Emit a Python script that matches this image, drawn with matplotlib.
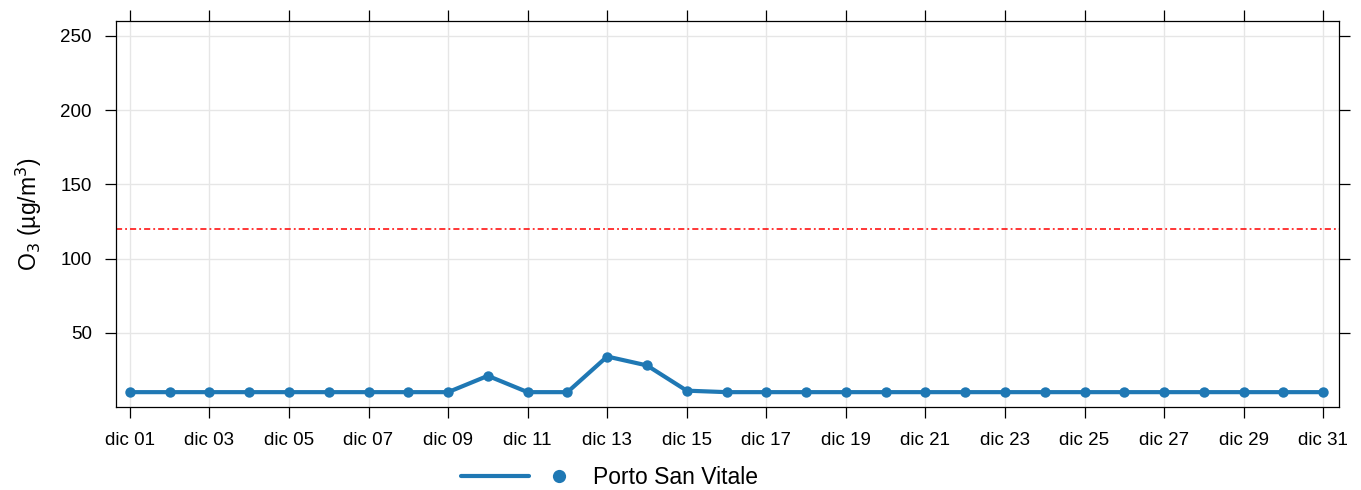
import numpy as np
import matplotlib
matplotlib.use("Agg")
import matplotlib.pyplot as plt
from matplotlib.lines import Line2D
from matplotlib.legend_handler import HandlerBase

plt.rcParams['font.family'] = ['Liberation Sans', 'DejaVu Sans']

# daily max O3, Porto San Vitale, December
days = list(range(1, 32))
o3 = [10, 10, 10, 10, 10, 10, 10, 10, 10, 21, 10, 10, 34, 28, 11,
      10, 10, 10, 10, 10, 10, 10, 10, 10, 10, 10, 10, 10, 10, 10, 10]
station = "Porto San Vitale"
threshold = 120
tick_days = list(range(1, 32, 2))
tick_labels = ["dic %02d" % d for d in tick_days]
y_ticks = [50, 100, 150, 200, 250]

blue = "#1f78b4"
lw = 3.0
ms = 7.5


class LineDotHandler(HandlerBase):
    # lattice style key: line segment, then a separate point
    def create_artists(self, legend, orig_handle, xdescent, ydescent,
                       width, height, fontsize, trans):
        y = height / 2 - ydescent
        x0 = -xdescent
        seg = Line2D([x0, x0 + width * 0.635], [y, y], color=blue,
                     linewidth=lw, solid_capstyle="round")
        dot = Line2D([x0 + width * 0.915], [y], color=blue, marker="o",
                     markersize=9.5, markeredgewidth=0, linestyle="none")
        seg.set_transform(trans)
        dot.set_transform(trans)
        return [seg, dot]


fig = plt.figure(figsize=(13.61, 4.9), dpi=100)
ax = fig.add_axes([0.0849, 0.1694, 0.8987, 0.7877])

ax.set_xticks(tick_days)
ax.set_yticks(y_ticks)
ax.grid(True, color="#e6e6e6", linewidth=1.0)
ax.set_axisbelow(True)

ax.axhline(threshold, color="#ff0000", linewidth=1.1, linestyle=(0, (4, 2, 1.2, 2)))
line, = ax.plot(days, o3, color=blue, linewidth=lw, marker="o", markersize=ms,
                markeredgewidth=0, solid_capstyle="round")

ax.set_xlim(0.64, 31.39)
ax.set_ylim(0, 260)

ax.set_xticklabels(tick_labels)
ax.tick_params(axis="both", direction="out", length=8, width=0.9, labelsize=13.5,
               colors="black")
ax.tick_params(axis="x", pad=10)
ax.tick_params(axis="y", pad=9)
ax.tick_params(top=True, right=True, labeltop=False, labelright=False)
for s in ax.spines.values():
    s.set_linewidth(0.9)

ax.set_ylabel("O$_3$ (µg/m$^3$)", fontsize=16.5, labelpad=12)

fig.legend([line], [station], loc="center", bbox_to_anchor=(0.448, 0.026),
           frameon=False, fontsize=16.5, handlelength=4.65, handletextpad=1.1,
           handler_map={Line2D: LineDotHandler()})

fig.savefig("out.png", dpi=100)
